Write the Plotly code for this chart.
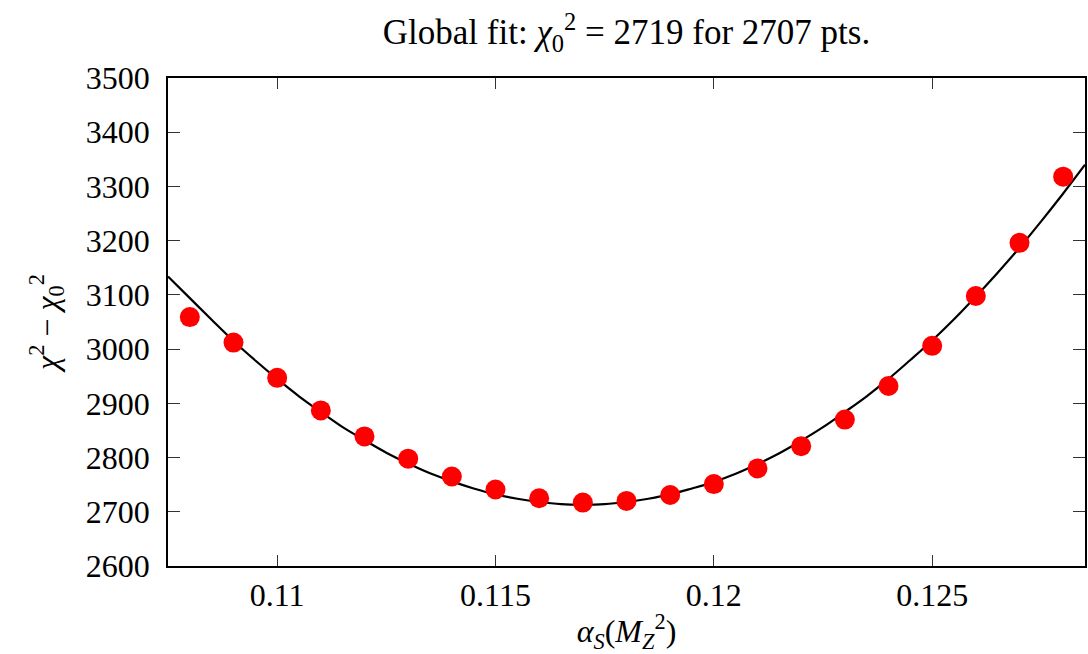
import plotly.graph_objects as go

# data points: alpha_S values and chi^2 values
alpha_s = [0.108, 0.109, 0.110, 0.111, 0.112, 0.113, 0.114, 0.115, 0.116, 0.117, 0.118,
           0.119, 0.120, 0.121, 0.122, 0.123, 0.124, 0.125, 0.126, 0.127, 0.128]
chi2 = [3059, 3012, 2947, 2887, 2839, 2798, 2765, 2741, 2725, 2717, 2720,
        2731, 2751, 2780, 2821, 2870, 2932, 3006, 3098, 3196, 3318]

# fitted curve
fit_x = [0.1075, 0.1080, 0.1085, 0.1090, 0.1095, 0.1100, 0.1105, 0.1110, 0.1115, 0.1120,
         0.1125, 0.1130, 0.1135, 0.1140, 0.1145, 0.1150, 0.1155, 0.1160, 0.1165, 0.1170,
         0.1175, 0.1180, 0.1185, 0.1190, 0.1195, 0.1200, 0.1205, 0.1210, 0.1215, 0.1220,
         0.1225, 0.1230, 0.1235, 0.1240, 0.1245, 0.1250, 0.1255, 0.1260, 0.1265, 0.1270,
         0.1275, 0.1280, 0.1285]
fit_y = [3134, 3094, 3054, 3015, 2979, 2945, 2913, 2884, 2856, 2832,
         2809, 2789, 2771, 2756, 2743, 2732, 2724, 2718, 2714, 2713,
         2714, 2718, 2724, 2732, 2743, 2755, 2770, 2788, 2808, 2831,
         2856, 2884, 2913, 2945, 2980, 3016, 3055, 3097, 3141, 3187,
         3236, 3287, 3340]

x_ticks = [0.11, 0.115, 0.12, 0.125]
x_ticklabels = ["0.11", "0.115", "0.12", "0.125"]
y_ticks = [2600, 2700, 2800, 2900, 3000, 3100, 3200, 3300, 3400, 3500]

FONT = "Liberation Serif"

fig = go.Figure()
fig.add_trace(go.Scatter(x=fit_x, y=fit_y, mode="lines",
                         line=dict(color="black", width=2.2, shape="spline"),
                         showlegend=False, hoverinfo="skip"))
fig.add_trace(go.Scatter(x=alpha_s, y=chi2, mode="markers",
                         marker=dict(color="#ff0000", size=20, line=dict(width=0)),
                         showlegend=False))

fig.update_layout(
    width=1088, height=654,
    margin=dict(l=168, r=1, t=78, b=88),
    paper_bgcolor="white", plot_bgcolor="white",
    font=dict(family=FONT, size=32, color="black"),
    title=dict(text="Global fit: <i>χ</i><sub>0</sub><sup>2</sup> = 2719 for 2707 pts.",
               x=0.5, xref="paper", xanchor="center",
               y=1 - 32 / 654, yref="container", yanchor="middle",
               font=dict(family=FONT, size=35, color="black")),
)
fig.update_xaxes(
    range=[0.1075, 0.1285], tickvals=x_ticks, ticktext=x_ticklabels,
    ticks="inside", ticklen=11, tickwidth=1.3, tickcolor="#333",
    showline=True, linecolor="black", linewidth=1.6, mirror="ticks",
    showgrid=False, zeroline=False,
    tickfont=dict(family=FONT, size=32),
    title=dict(text="<i>α<sub>S</sub></i>(<i>M</i><sub><i>Z</i></sub><sup>2</sup>)",
               font=dict(family=FONT, size=32), standoff=9),
)
fig.update_yaxes(
    range=[2600, 3500], tickvals=y_ticks,
    ticks="inside", ticklen=12, tickwidth=1.3, tickcolor="#333",
    showline=True, linecolor="black", linewidth=1.6, mirror="ticks",
    showgrid=False, zeroline=False,
    tickfont=dict(family=FONT, size=32), ticklabelstandoff=10,
    title=dict(text="<i>χ</i><sup>2</sup> − <i>χ</i><sub>0</sub><sup>2</sup>",
               font=dict(family=FONT, size=32), standoff=18),
)

fig.write_html("out.html")
